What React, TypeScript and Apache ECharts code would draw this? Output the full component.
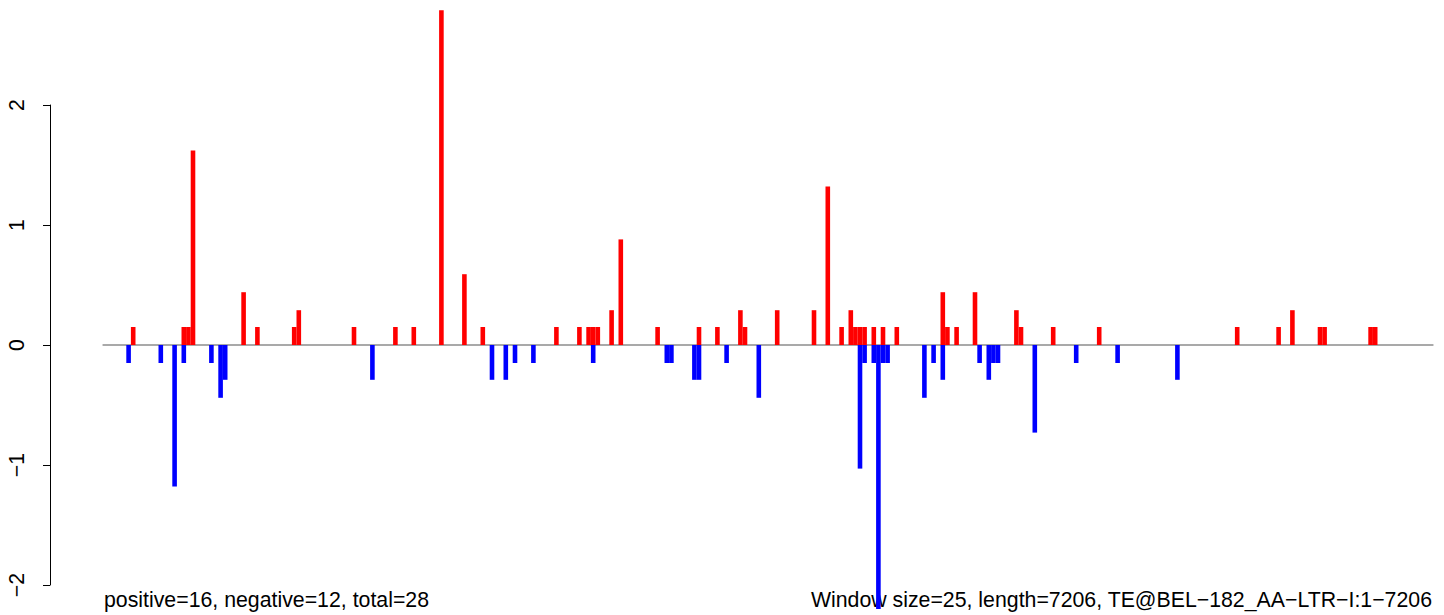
import React, { useEffect, useRef } from "react";
import * as echarts from "echarts";

// number of 25-bp windows along the 7206-bp element
const WINDOW_COUNT = 289;

// positive windows (0-based window index) and their scores
const posIdx = [6, 17, 18, 19, 30, 33, 41, 42, 54, 63, 67, 73, 78, 82, 98, 103, 105, 106, 107, 110, 112, 120, 129, 133, 138, 139, 146, 154, 157, 160, 162, 163, 164, 165, 167, 169, 172, 182, 183, 185, 189, 198, 199, 206, 216, 246, 255, 258, 264, 265, 275, 276];
const posVal = [0.15, 0.15, 0.15, 1.62, 0.44, 0.15, 0.15, 0.29, 0.15, 0.15, 0.15, 2.79, 0.59, 0.15, 0.15, 0.15, 0.15, 0.15, 0.15, 0.29, 0.88, 0.15, 0.15, 0.15, 0.29, 0.15, 0.29, 0.29, 1.32, 0.15, 0.29, 0.15, 0.15, 0.15, 0.15, 0.15, 0.15, 0.44, 0.15, 0.15, 0.44, 0.29, 0.15, 0.15, 0.15, 0.15, 0.15, 0.29, 0.15, 0.15, 0.15, 0.15];

// negative windows and their scores
const negIdx = [5, 12, 15, 17, 23, 25, 26, 58, 84, 87, 89, 93, 106, 122, 123, 128, 129, 135, 142, 164, 165, 167, 168, 169, 170, 178, 180, 182, 190, 192, 193, 194, 202, 211, 220, 233];
const negVal = [-0.15, -0.15, -1.18, -0.15, -0.15, -0.44, -0.29, -0.29, -0.29, -0.29, -0.15, -0.15, -0.15, -0.15, -0.15, -0.29, -0.29, -0.15, -0.44, -1.03, -0.15, -0.15, -2.2, -0.15, -0.15, -0.44, -0.15, -0.29, -0.15, -0.29, -0.15, -0.15, -0.73, -0.15, -0.15, -0.29];

const yTicks = [-2, -1, 0, 1, 2];

const leftNote = "positive=16, negative=12, total=28";
const rightNote = "Window size=25, length=7206, TE@BEL\u2212182_AA\u2212LTR\u2212I:1\u22127206";

const FONT = "'Liberation Sans', Arial, Helvetica, sans-serif";
const FONT_SIZE = 21.3;

export default function App() {
  const ref = useRef<HTMLDivElement>(null);

  useEffect(() => {
    if (!ref.current) return;
    const chart = echarts.init(ref.current, null, { renderer: "svg" });

    const categories = Array.from({ length: WINDOW_COUNT }, (_, i) => String(i + 1));
    const pos: (number | null)[] = Array(WINDOW_COUNT).fill(null);
    const neg: (number | null)[] = Array(WINDOW_COUNT).fill(null);
    posIdx.forEach((k, j) => (pos[k] = posVal[j]));
    negIdx.forEach((k, j) => (neg[k] = negVal[j]));

    chart.setOption({
      animation: false,
      backgroundColor: "#ffffff",
      grid: { left: 103.3, right: 11.3, top: 105, bottom: 30, containLabel: false },
      xAxis: {
        type: "category",
        data: categories,
        boundaryGap: true,
        axisLine: { show: true, onZero: true, lineStyle: { color: "#a9a9a9", width: 2 } },
        axisTick: { show: false },
        axisLabel: { show: false },
        splitLine: { show: false },
      },
      yAxis: {
        type: "value",
        min: yTicks[0],
        max: yTicks[yTicks.length - 1],
        interval: 1,
        offset: 53.3,
        axisLine: { show: true, lineStyle: { color: "#000000", width: 1 } },
        axisTick: { show: true, length: 7, lineStyle: { color: "#000000", width: 1 } },
        axisLabel: {
          rotate: 90,
          margin: 23,
          fontSize: FONT_SIZE,
          fontFamily: FONT,
          color: "#000000",
          formatter: (v: number) => (v < 0 ? "\u2212" + Math.abs(v) : String(v)),
        },
        splitLine: { show: false },
      },
      series: [
        {
          type: "bar",
          name: "positive",
          data: pos,
          barWidth: "100%",
          barGap: "-100%",
          clip: false,
          itemStyle: { color: "#ff0000" },
        },
        {
          type: "bar",
          name: "negative",
          data: neg,
          barWidth: "100%",
          barGap: "-100%",
          clip: false,
          itemStyle: { color: "#0000ff" },
        },
      ],
      graphic: [
        {
          type: "text",
          x: 104,
          y: 599.5,
          style: {
            text: leftNote,
            fontSize: FONT_SIZE,
            fontFamily: FONT,
            fill: "#000000",
            textAlign: "left",
            textVerticalAlign: "middle",
          },
        },
        {
          type: "text",
          x: 1432,
          y: 599.5,
          style: {
            text: rightNote,
            fontSize: FONT_SIZE,
            fontFamily: FONT,
            fill: "#000000",
            textAlign: "right",
            textVerticalAlign: "middle",
          },
        },
      ],
    });

    return () => chart.dispose();
  }, []);

  return (
    <div
      ref={ref}
      style={{ position: "absolute", left: 0, top: 0, width: 1444, height: 615, background: "#fff" }}
    />
  );
}
